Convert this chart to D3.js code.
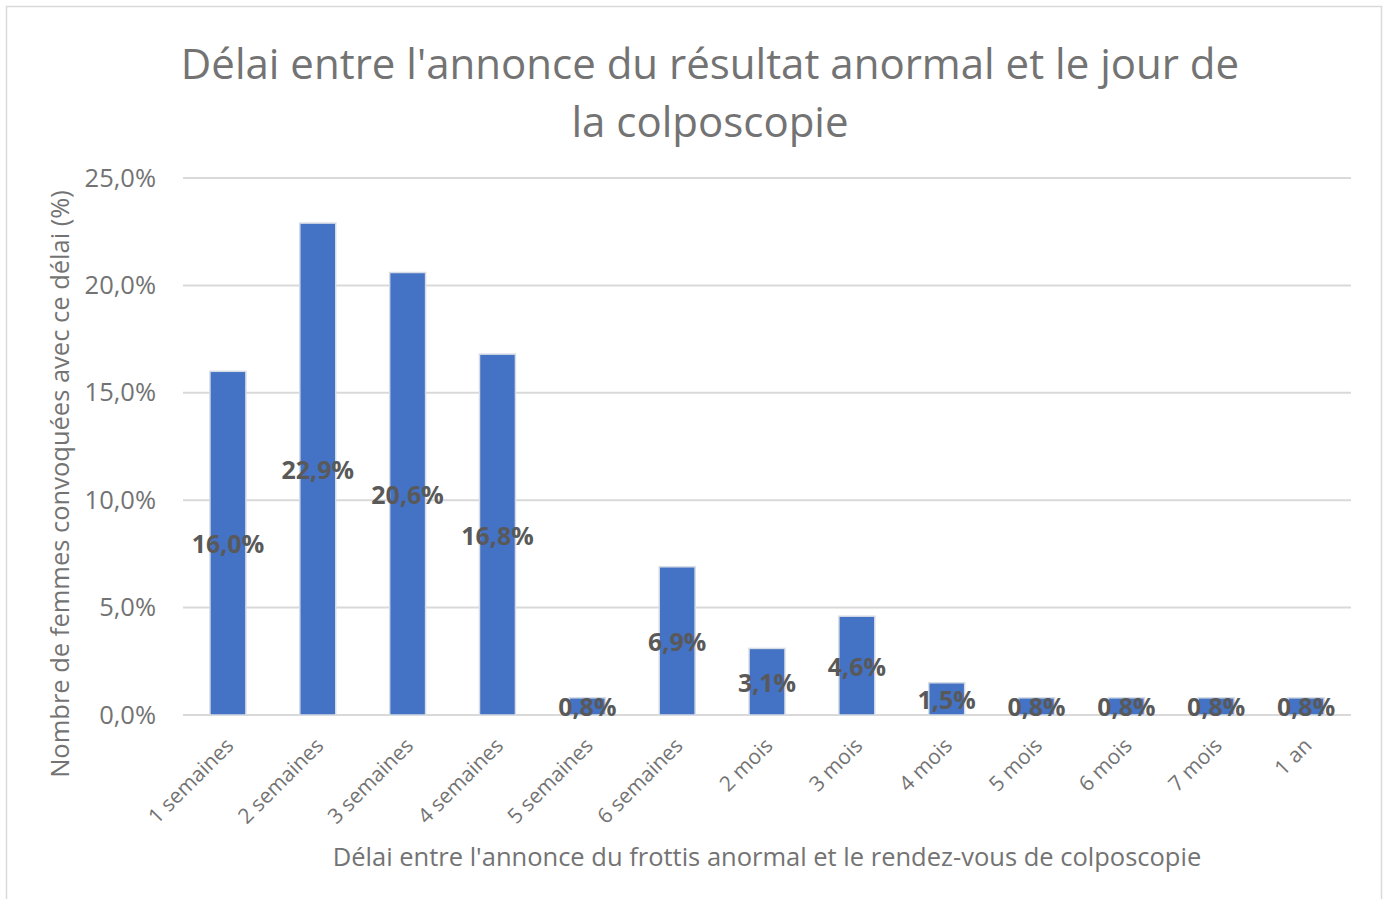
<!DOCTYPE html>
<html lang="fr">
<head>
    <meta charset="UTF-8">
    <title>Délai colposcopie</title>
    <script src="https://cdn.jsdelivr.net/npm/d3@7"></script>
    <style>
        body { margin: 0; background: #fff; }
        text { font-family: "Open Sans", "Noto Sans", sans-serif; }
        .bar { fill: #4472C4; stroke: #d6dce5; stroke-width: 1.5; }
        .grid line { stroke: #d9d9d9; stroke-width: 2; }
    </style>
</head>
<body>
<svg width="1386" height="899"></svg>
<script>
    var categories = ["1 semaines", "2 semaines", "3 semaines", "4 semaines", "5 semaines", "6 semaines",
        "2 mois", "3 mois", "4 mois", "5 mois", "6 mois", "7 mois", "1 an"];
    var values = [16.0, 22.9, 20.6, 16.8, 0.8, 6.9, 3.1, 4.6, 1.5, 0.8, 0.8, 0.8, 0.8];
    var yTicks = [0, 5, 10, 15, 20, 25];

    var svg = d3.select("svg");
    var fmt = function(v) { return v.toFixed(1).replace(".", ",") + "%"; };
    var textGray = "#737373";

    // chart frame
    svg.append("rect")
        .attr("x", 6.5).attr("y", 6.5)
        .attr("width", 1375).attr("height", 900)
        .attr("fill", "#fff").attr("stroke", "#d9d9d9").attr("stroke-width", 1.5);

    var plotLeft = 183, plotRight = 1351, plotTop = 178, plotBottom = 715;

    var x = d3.scaleBand().domain(categories).range([plotLeft, plotRight]).paddingInner(0.6).paddingOuter(0.3);
    var y = d3.scaleLinear().domain([0, 25]).range([plotBottom, plotTop]);

    // title
    var title = svg.append("text")
        .attr("text-anchor", "middle")
        .attr("fill", textGray)
        .attr("font-size", "42px");
    title.append("tspan").attr("x", 710).attr("y", 79)
        .text("Délai entre l'annonce du résultat anormal et le jour de");
    title.append("tspan").attr("x", 710).attr("y", 137)
        .text("la colposcopie");

    // gridlines
    svg.append("g").attr("class", "grid")
        .selectAll("line").data(yTicks).enter().append("line")
        .attr("x1", plotLeft).attr("x2", plotRight)
        .attr("y1", function(d) { return y(d); })
        .attr("y2", function(d) { return y(d); });

    // y axis labels
    var yAxis = svg.append("g")
        .attr("transform", "translate(" + (plotLeft - 20) + ",0)")
        .call(d3.axisLeft(y).tickValues(yTicks).tickSize(0).tickFormat(fmt));
    yAxis.select(".domain").remove();
    yAxis.selectAll("text")
        .attr("fill", textGray)
        .attr("font-size", "25.5px")
        .attr("x", -7)
        .style("font-family", "'Open Sans', 'Noto Sans', sans-serif");

    // bars
    svg.selectAll(".bar")
        .data(values)
        .enter().append("rect")
        .attr("class", "bar")
        .attr("x", function(d, i) { return x(categories[i]); })
        .attr("y", function(d) { return y(d); })
        .attr("width", x.bandwidth())
        .attr("height", function(d) { return plotBottom - y(d); });

    // data labels (centered in bars)
    svg.selectAll(".lbl")
        .data(values)
        .enter().append("text")
        .attr("class", "lbl")
        .attr("text-anchor", "middle")
        .attr("dominant-baseline", "central")
        .attr("fill", "#595959")
        .attr("font-size", "25px")
        .attr("font-weight", "bold")
        .attr("x", function(d, i) { return x(categories[i]) + x.bandwidth() / 2; })
        .attr("y", function(d) { return (y(d) + plotBottom) / 2; })
        .text(fmt);

    // x axis
    var xAxis = svg.append("g")
        .attr("transform", "translate(0," + plotBottom + ")")
        .call(d3.axisBottom(x).tickSize(0));
    xAxis.select(".domain").remove();
    xAxis.selectAll("text")
        .attr("fill", textGray)
        .attr("font-size", "21px")
        .attr("text-anchor", "end")
        .attr("y", 0).attr("dy", 0)
        .attr("transform", "translate(7,32) rotate(-45)")
        .style("font-family", "'Open Sans', 'Noto Sans', sans-serif");

    // axis titles
    svg.append("text")
        .attr("text-anchor", "middle")
        .attr("fill", textGray)
        .attr("font-size", "25.5px")
        .attr("transform", "translate(69,484) rotate(-90)")
        .text("Nombre de femmes convoquées avec ce délai (%)");

    svg.append("text")
        .attr("text-anchor", "middle")
        .attr("fill", textGray)
        .attr("font-size", "25.5px")
        .attr("x", 767).attr("y", 866)
        .text("Délai entre l'annonce du frottis anormal et le rendez-vous de colposcopie");
</script>
</body>
</html>
